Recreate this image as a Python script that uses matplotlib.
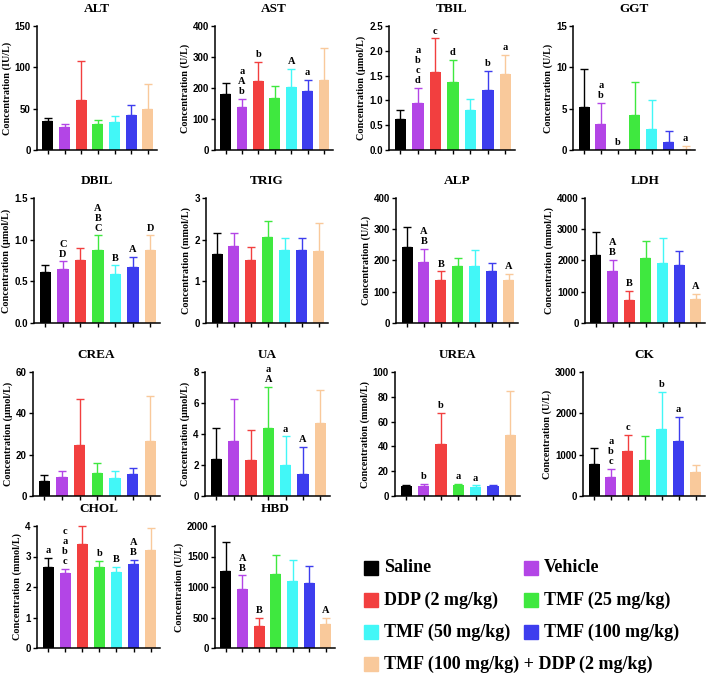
import matplotlib.pyplot as plt
import numpy as np

groups = ["Saline", "Vehicle", "DDP (2 mg/kg)", "TMF (25 mg/kg)",
          "TMF (50 mg/kg)", "TMF (100 mg/kg)", "TMF (100 mg/kg) + DDP (2 mg/kg)"]
colors = ["#000000", "#B345E6", "#F23F3F", "#3FE83F", "#42F7F7", "#3D3DEE", "#F9C99B"]

# means and upper error (SD)
alt_mean = [35, 28, 61, 31, 34, 42, 50]
alt_err = [4, 3, 47, 5, 7, 13, 30]
ast_mean = [180, 138, 222, 168, 202, 189, 227]
ast_err = [35, 27, 63, 40, 60, 38, 103]
tbil_mean = [0.62, 0.95, 1.57, 1.38, 0.81, 1.21, 1.53]
tbil_err = [0.19, 0.31, 0.68, 0.44, 0.22, 0.39, 0.38]
ggt_mean = [5.2, 3.1, 0.0, 4.2, 2.5, 1.0, 0.1]
ggt_err = [4.6, 2.6, 0.0, 4.0, 3.5, 1.3, 0.4]
dbil_mean = [0.61, 0.65, 0.75, 0.88, 0.59, 0.67, 0.87]
dbil_err = [0.09, 0.09, 0.15, 0.17, 0.10, 0.12, 0.18]
trig_mean = [1.66, 1.84, 1.51, 2.07, 1.75, 1.75, 1.73]
trig_err = [0.50, 0.32, 0.31, 0.37, 0.29, 0.28, 0.67]
alp_mean = [243, 194, 139, 182, 182, 165, 139]
alp_err = [65, 42, 26, 25, 52, 26, 19]
ldh_mean = [2170, 1670, 750, 2080, 1930, 1840, 770]
ldh_err = [730, 340, 280, 550, 800, 470, 150]
crea_mean = [7.5, 9.2, 24.5, 11.0, 8.6, 10.8, 26.5]
crea_err = [2.5, 2.8, 22.5, 5.0, 3.4, 2.7, 22.0]
ua_mean = [2.4, 3.55, 2.3, 4.4, 2.0, 1.45, 4.7]
ua_err = [2.0, 2.7, 1.95, 2.65, 1.85, 1.7, 2.15]
urea_mean = [8.0, 8.0, 42.0, 8.5, 7.5, 8.2, 49.5]
urea_err = [1.0, 1.5, 25.0, 1.5, 1.0, 1.0, 35.5]
ck_mean = [780, 470, 1090, 860, 1630, 1340, 570]
ck_err = [380, 180, 390, 580, 890, 570, 190]
chol_mean = [2.65, 2.45, 3.4, 2.65, 2.5, 2.75, 3.2]
chol_err = [0.3, 0.15, 0.6, 0.2, 0.15, 0.15, 0.75]
hbd_mean = [1270, 970, 360, 1210, 1100, 1060, 390]
hbd_err = [460, 220, 140, 310, 350, 290, 110]

# significance letters (group index -> letters stacked top to bottom)
ast_sig = {1: "a\nA\nb", 2: "b", 4: "A", 5: "a"}
tbil_sig = {1: "a\nb\nc\nd", 2: "c", 3: "d", 5: "b", 6: "a"}
ggt_sig = {1: "a\nb", 2: "b", 6: "a"}
dbil_sig = {1: "C\nD", 3: "A\nB\nC", 4: "B", 5: "A", 6: "D"}
alp_sig = {1: "A\nB", 2: "B", 6: "A"}
ldh_sig = {1: "A\nB", 2: "B", 6: "A"}
ua_sig = {3: "a\nA", 4: "a", 5: "A"}
urea_sig = {1: "b", 2: "b", 3: "a", 4: "a"}
ck_sig = {1: "a\nb\nc", 2: "c", 4: "b", 5: "a"}
chol_sig = {0: "a", 1: "c\na\nb\nc", 3: "b", 4: "B", 5: "A\nB"}
hbd_sig = {1: "A\nB", 2: "B", 6: "A"}

# title, unit, mean, err, ymax, ystep, tick format, letters, (left px, right px, top px, bottom px)
panels = [
    ("ALT", "IU/L", alt_mean, alt_err, 150, 50, "{:.0f}", {}, (37, 157, 26, 150)),
    ("AST", "U/L", ast_mean, ast_err, 400, 100, "{:.0f}", ast_sig, (215, 333, 26, 150)),
    ("TBIL", "μmol/L", tbil_mean, tbil_err, 2.5, 0.5, "{:.1f}", tbil_sig, (389, 515, 26, 150)),
    ("GGT", "U/L", ggt_mean, ggt_err, 15, 5, "{:.0f}", ggt_sig, (573, 695, 26, 150)),
    ("DBIL", "μmol/L", dbil_mean, dbil_err, 1.5, 0.5, "{:.1f}", dbil_sig, (34, 160, 198, 323)),
    ("TRIG", "mmol/L", trig_mean, trig_err, 3, 1, "{:.0f}", {}, (206, 328, 198, 323)),
    ("ALP", "U/L", alp_mean, alp_err, 400, 100, "{:.0f}", alp_sig, (396, 518, 198, 323)),
    ("LDH", "mmol/L", ldh_mean, ldh_err, 4000, 1000, "{:.0f}", ldh_sig, (585, 705, 198, 323)),
    ("CREA", "μmol/L", crea_mean, crea_err, 60, 20, "{:.0f}", {}, (33, 160, 372, 496)),
    ("UA", "μmol/L", ua_mean, ua_err, 8, 2, "{:.0f}", ua_sig, (205, 330, 372, 496)),
    ("UREA", "mmol/L", urea_mean, urea_err, 100, 20, "{:.0f}", urea_sig, (395, 520, 372, 496)),
    ("CK", "U/L", ck_mean, ck_err, 3000, 1000, "{:.0f}", ck_sig, (583, 705, 372, 496)),
    ("CHOL", "mmol/L", chol_mean, chol_err, 4, 1, "{:.0f}", chol_sig, (37, 160, 526, 648)),
    ("HBD", "U/L", hbd_mean, hbd_err, 2000, 500, "{:.0f}", hbd_sig, (215, 335, 526, 648)),
]

W, H = 709, 676
fig = plt.figure(figsize=(W / 100, H / 100), dpi=100)
serif = "Liberation Serif"
sans = "Liberation Sans"

x = np.arange(len(groups))
for title, unit, mean, err, ymax, ystep, fmt, sig, (l, r, t, b) in panels:
    ax = fig.add_axes([l / W, 1 - b / H, (r - l) / W, (b - t) / H])
    ax.bar(x, mean, width=0.65, color=colors, zorder=2)
    for xi, m, e, c in zip(x, mean, err, colors):
        if e > 0:
            ax.errorbar(xi, m, yerr=[[0], [e]], color=c, capsize=3, elinewidth=1,
                        capthick=1, zorder=1, clip_on=False)
    for gi, txt in sig.items():
        ax.annotate(txt, (gi, mean[gi] + err[gi]), xytext=(0, 2), textcoords="offset points",
                    ha="center", va="bottom", fontsize=7.5, fontweight="bold",
                    family=serif, linespacing=1.15)
    ax.set_xlim(-0.65, 6.55)
    ax.set_ylim(0, ymax)
    ticks = np.arange(0, ymax + ystep / 2, ystep)
    ax.set_yticks(ticks)
    ax.set_yticklabels([fmt.format(v) for v in ticks], fontsize=7, fontweight="bold", family=sans)
    ax.set_xticks(x)
    ax.set_xticklabels([])
    ax.tick_params(direction="out", length=3, width=1, pad=1.5)
    for s in ["top", "right"]:
        ax.spines[s].set_visible(False)
    for s in ["left", "bottom"]:
        ax.spines[s].set_linewidth(1.1)
    ax.set_title(title, fontsize=9.5, fontweight="bold", family=serif, pad=10)
    ax.set_ylabel("Concentration (%s)" % unit, fontsize=7.3, fontweight="bold",
                  family=[serif, "DejaVu Serif"], labelpad=2)

# legend block in the lower right, filled row by row
lax = fig.add_axes([0, 0, 1, 1], zorder=-1)
lax.set_xlim(0, W)
lax.set_ylim(H, 0)
lax.axis("off")
for i, (g, c) in enumerate(zip(groups, colors)):
    px = 371 + (i % 2) * 160
    py = 568 + (i // 2) * 32
    lax.plot(px, py, marker="s", markersize=9.5, color=c, linestyle="")
    lax.text(px + 13, py, g, fontsize=13, fontweight="bold", family=serif, va="center", ha="left")

fig.savefig("out.png", dpi=100)
